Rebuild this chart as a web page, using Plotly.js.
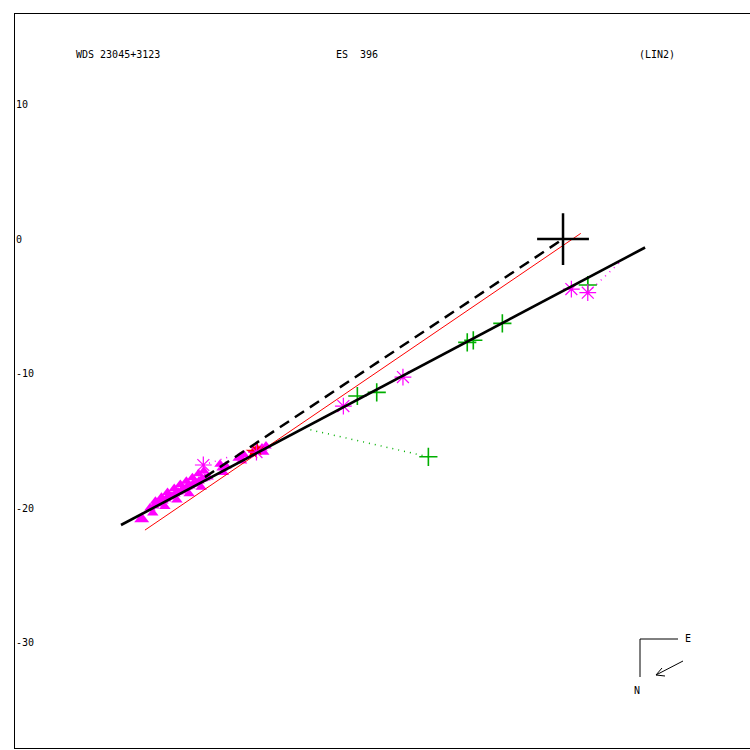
<!DOCTYPE html>
<html>
<head>
<meta charset="utf-8">
<script src="https://cdn.plot.ly/plotly-3.0.1.min.js"></script>
<style>html,body{margin:0;padding:0;background:#fff;}#chart{width:750px;height:750px;}</style>
</head>
<body>
<div id="chart"></div>
<script>
// ---- data (offsets; same units on both axes) ----
const fitLineX = [-32.86, 6.10];
const fitLineY = [-21.26, -0.63];
const redLineX = [-31.08, 1.32];
const redLineY = [-21.64, 0.42];
const dashLineX = [-26.62, 0.00];
const dashLineY = [-17.70, 0.00];
const primaryX = [0.00];
const primaryY = [0.00];

const plusX = [-15.29, -13.85, -7.12, -6.67, -4.51, 1.84, -10.01];
const plusY = [-11.67, -11.40, -7.68, -7.53, -6.27, -3.42, -16.19];

const asteriskX = [-26.74, -22.79, -16.33, -11.90, 0.62, 1.84];
const asteriskY = [-16.80, -15.84, -12.42, -10.26, -3.72, -3.99];

const starX = [-22.75, -23.05];
const starY = [-15.61, -15.84];

const bigTriX = [-31.32];
const bigTriY = [-20.82];
const triX = [-30.71, -30.41, -30.19, -29.96, -29.74, -29.52, -29.29, -29.07, -28.85, -28.62,
              -28.40, -28.18, -27.96, -27.73, -27.51, -27.29, -27.06, -26.84, -26.62, -26.39,
              -25.35, -25.06, -24.01, -23.72, -22.38, -22.08,
              -30.30, -29.85, -29.40, -28.90, -28.45, -28.00, -27.55, -27.10, -26.70,
              -25.25, -23.90, -22.25, -25.50, -24.15, -22.55,
              -30.50, -29.60, -28.70, -27.80, -26.90];
const triY = [-20.00, -19.85, -19.70, -19.55, -19.48, -19.33, -19.18, -19.11, -18.96, -18.81,
              -18.74, -18.59, -18.44, -18.36, -18.22, -18.14, -17.99, -17.84, -17.77, -17.70,
              -17.03, -16.88, -16.21, -16.06, -15.54, -15.39,
              -19.50, -19.20, -18.85, -18.55, -18.25, -18.00, -17.75, -17.45, -17.25,
              -17.35, -16.50, -15.85, -16.75, -16.30, -15.70,
              -20.36, -19.88, -19.41, -18.93, -18.45];

// residual connections (observed -> predicted)
const greenResX = [-10.01, -18.94];
const greenResY = [-16.19, -14.15];
const greenRes2X = [1.84, 1.84];
const greenRes2Y = [-3.42, -2.90];
const magResX = [1.84, 4.24];
const magResY = [-3.99, -1.71];
const magRes2X = [-26.74, -24.61];
const magRes2Y = [-16.80, -16.13];

const yTickVals = [10, 0, -10, -20, -30];
const yTickText = ['10', '0', '-10', '-20', '-30'];

const headerLeft = 'WDS 23045+3123';
const headerMid = 'ES  396';
const headerRight = '(LIN2)';

// ---- styling ----
const MAG = 'rgb(255,0,255)';
const GRN = 'rgb(0,175,0)';
const RED = 'rgb(255,0,0)';
const FONT = {family: 'DejaVu Sans Mono, monospace', size: 10, color: '#000'};

const traces = [
  {x: greenResX, y: greenResY, mode: 'lines', line: {color: GRN, width: 1.5, dash: '1px,5px'}},
  {x: greenRes2X, y: greenRes2Y, mode: 'lines', line: {color: GRN, width: 1.2}},
  {x: magResX, y: magResY, mode: 'lines', line: {color: MAG, width: 1.5, dash: '1px,5px'}},
  {x: magRes2X, y: magRes2Y, mode: 'lines', line: {color: MAG, width: 1.5, dash: '1px,5px'}},
  {x: triX, y: triY, mode: 'markers', marker: {symbol: 'triangle-up', size: 10, color: MAG}},
  {x: bigTriX, y: bigTriY, mode: 'markers', marker: {symbol: 'triangle-up', size: 13, color: MAG}},
  {x: redLineX, y: redLineY, mode: 'lines', line: {color: RED, width: 1}},
  {x: starX, y: starY, mode: 'markers', marker: {symbol: 'star', size: 11, color: RED}},
  {x: plusX, y: plusY, mode: 'markers', marker: {symbol: 'cross-thin-open', size: 13, color: GRN, line: {color: GRN, width: 1.6}}},
  {x: asteriskX, y: asteriskY, mode: 'markers', marker: {symbol: 'asterisk-open', size: 14, color: MAG, line: {color: MAG, width: 1.2}}},
  {x: dashLineX, y: dashLineY, mode: 'lines', line: {color: '#000', width: 2.5, dash: '11px,7px'}},
  {x: fitLineX, y: fitLineY, mode: 'lines', line: {color: '#000', width: 2.6}},
  {x: primaryX, y: primaryY, mode: 'markers', marker: {symbol: 'cross-thin-open', size: 37, color: '#000', line: {color: '#000', width: 2.5}}}
];

// pixel -> paper helper for decorations
const L = 15, T = 14, W = 735, H = 734;
function px(x) { return (x - L) / W; }
function py(y) { return (T + H - y) / H; }

const shapes = [
  {type: 'line', xref: 'paper', yref: 'paper', x0: px(640), y0: py(639), x1: px(678), y1: py(639), line: {color: '#000', width: 1}},
  {type: 'line', xref: 'paper', yref: 'paper', x0: px(640), y0: py(639), x1: px(640), y1: py(677), line: {color: '#000', width: 1}},
  {type: 'line', xref: 'paper', yref: 'paper', x0: px(683), y0: py(661), x1: px(656), y1: py(675), line: {color: '#000', width: 1}},
  {type: 'line', xref: 'paper', yref: 'paper', x0: px(656), y0: py(675), x1: px(662), y1: py(668), line: {color: '#000', width: 1}},
  {type: 'line', xref: 'paper', yref: 'paper', x0: px(656), y0: py(675), x1: px(665), y1: py(676), line: {color: '#000', width: 1}}
];

const annotations = [
  {text: headerLeft, xref: 'paper', yref: 'paper', x: px(74), y: py(55), xanchor: 'left', yanchor: 'middle', showarrow: false, font: FONT},
  {text: headerMid, xref: 'paper', yref: 'paper', x: px(334), y: py(55), xanchor: 'left', yanchor: 'middle', showarrow: false, font: FONT},
  {text: headerRight, xref: 'paper', yref: 'paper', x: px(637), y: py(55), xanchor: 'left', yanchor: 'middle', showarrow: false, font: FONT},
  {text: 'E', xref: 'paper', yref: 'paper', x: px(688), y: py(638), xanchor: 'center', yanchor: 'middle', showarrow: false, font: FONT},
  {text: 'N', xref: 'paper', yref: 'paper', x: px(637), y: py(690), xanchor: 'center', yanchor: 'middle', showarrow: false, font: FONT}
];

const layout = {
  width: 750, height: 750,
  margin: {l: L, r: 750 - L - W, t: T, b: 750 - T - H, pad: 0},
  paper_bgcolor: '#fff', plot_bgcolor: '#fff',
  showlegend: false, hovermode: false,
  xaxis: {range: [-40.74, 13.90], showgrid: false, zeroline: false, showticklabels: false, ticks: '',
          showline: true, mirror: true, linecolor: '#000', linewidth: 1, fixedrange: true},
  yaxis: {range: [-37.84, 16.73], showgrid: false, zeroline: false, ticks: '',
          tickvals: yTickVals, ticktext: yTickText, ticklabelposition: 'inside',
          tickfont: FONT, showline: true, linecolor: '#000', linewidth: 1, fixedrange: true},
  shapes: shapes,
  annotations: annotations
};

Plotly.newPlot('chart', traces, layout, {displayModeBar: false, staticPlot: true});
</script>
</body>
</html>
